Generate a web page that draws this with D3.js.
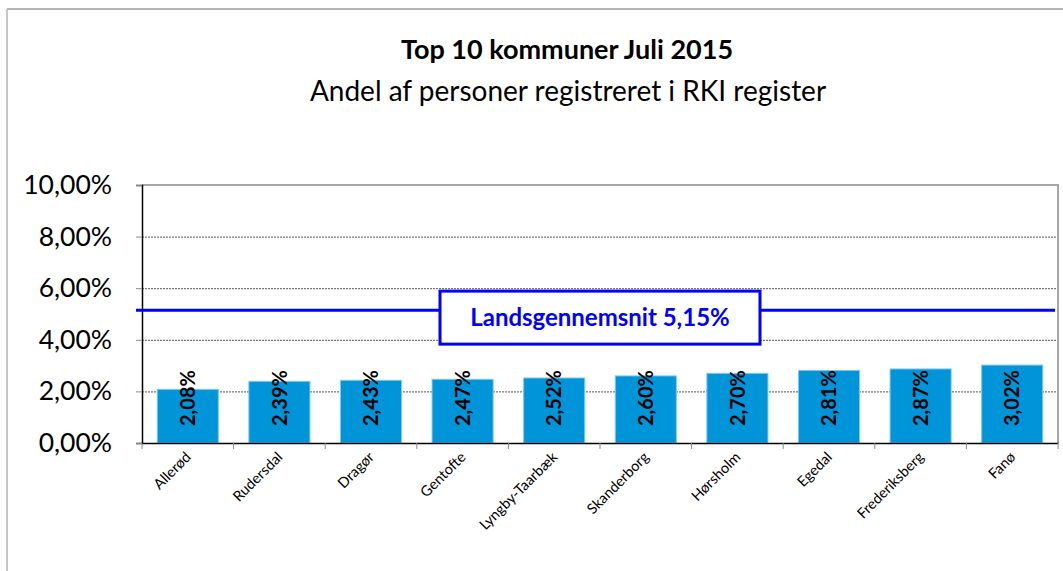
<!DOCTYPE html>
<html>
<head>
    <meta charset="utf-8" />
    <title>Top 10 kommuner Juli 2015</title>
    <style>
        body { margin: 0; background: #fff; }
        svg { display: block; font-family: Lato, "Open Sans", sans-serif; }
        .grid line { stroke: #555; stroke-dasharray: 2,1; }
    </style>
</head>
<body>
    <div id="chart"></div>
    <script src="https://cdn.jsdelivr.net/npm/d3@7"></script>
    <script>
        // data
        var kommuner = ["Allerød", "Rudersdal", "Dragør", "Gentofte", "Lyngby-Taarbæk", "Skanderborg", "Hørsholm", "Egedal", "Frederiksberg", "Fanø"];
        var andel = [2.08, 2.39, 2.43, 2.47, 2.52, 2.60, 2.70, 2.81, 2.87, 3.02];
        var yTicks = [0, 2, 4, 6, 8, 10];
        var landsgennemsnit = 5.15;

        var width = 1063, height = 571;
        var margin = { top: 185, right: 4, bottom: 128, left: 142 };

        var da = d3.formatLocale({ decimal: ",", thousands: ".", grouping: [3], currency: ["", " kr"] });
        var pct = d => da.format(".2f")(d) + "%";

        var svg = d3.select("#chart").append("svg")
            .attr("width", width)
            .attr("height", height);

        // outer chart frame (only top and left visible)
        svg.append("line").attr("x1", 7).attr("x2", width).attr("y1", 9).attr("y2", 9)
            .attr("stroke", "#9a9a9a").attr("stroke-width", 1.5);
        svg.append("line").attr("x1", 7).attr("x2", 7).attr("y1", 9).attr("y2", height)
            .attr("stroke", "#c6c6c6").attr("stroke-width", 2);

        // titles
        svg.append("text")
            .attr("x", 567).attr("y", 59)
            .attr("text-anchor", "middle")
            .attr("font-weight", "bold")
            .attr("font-size", 27)
            .text("Top 10 kommuner Juli 2015");
        svg.append("text")
            .attr("x", 568).attr("y", 101)
            .attr("text-anchor", "middle")
            .attr("font-size", 28)
            .text("Andel af personer registreret i RKI register");

        var x = d3.scaleBand()
            .domain(kommuner)
            .range([margin.left, width - margin.right - 1])
            .paddingInner(1 / 3)
            .paddingOuter(1 / 6);

        var y = d3.scaleLinear()
            .domain([0, 10])
            .range([height - margin.bottom, margin.top]);

        // gridlines
        svg.append("g")
            .attr("class", "grid")
            .selectAll("line")
            .data(yTicks.filter(d => d > 0 && d < 10))
            .join("line")
            .attr("x1", margin.left).attr("x2", x.range()[1])
            .attr("y1", d => y(d) + 0.5).attr("y2", d => y(d) + 0.5);

        // plot border top + right
        svg.append("path")
            .attr("d", `M${margin.left},${y(10)}H${x.range()[1]}V${y(0)}`)
            .attr("fill", "none")
            .attr("stroke", "#a6a6a6")
            .attr("stroke-width", 2);

        // bars
        svg.append("g")
            .selectAll("rect")
            .data(andel)
            .join("rect")
            .attr("x", (d, i) => x(kommuner[i]))
            .attr("y", d => y(d))
            .attr("width", x.bandwidth())
            .attr("height", d => y(0) - y(d))
            .attr("fill", "#0094d8")
            .attr("stroke", "#7cc8ee")
            .attr("stroke-width", 1);

        // bar labels (inside base, rotated)
        svg.append("g")
            .selectAll("text")
            .data(andel)
            .join("text")
            .attr("transform", (d, i) => `translate(${x(kommuner[i]) + x.bandwidth() / 2},${y(0) - 17}) rotate(-90)`)
            .attr("dy", "0.36em")
            .attr("font-weight", "bold")
            .attr("font-size", 20)
            .attr("fill", "#000")
            .text(d => pct(d));

        // y axis
        var yAxis = svg.append("g")
            .attr("transform", `translate(${margin.left},0)`)
            .call(d3.axisLeft(y).tickValues(yTicks).tickSize(6).tickPadding(24).tickFormat(pct));
        yAxis.select(".domain").attr("stroke", "#000").attr("stroke-width", 1.5);
        yAxis.selectAll(".tick line").attr("stroke", "#888");
        yAxis.selectAll(".tick text")
            .attr("font-size", 26.5)
            .attr("font-family", "Lato, 'Open Sans', sans-serif")
            .attr("fill", "#000");

        // x axis
        var xAxis = svg.append("g")
            .attr("transform", `translate(0,${y(0)})`)
            .call(d3.axisBottom(x).tickSize(0).tickFormat(""));
        xAxis.select(".domain").attr("stroke", "#000").attr("stroke-width", 1.5);

        var step = x.step();
        var bounds = d3.range(kommuner.length + 1).map(i => x.range()[0] + i * step);
        svg.append("g")
            .selectAll("line")
            .data(bounds)
            .join("line")
            .attr("x1", d => d).attr("x2", d => d)
            .attr("y1", y(0)).attr("y2", y(0) + 6)
            .attr("stroke", "#888");

        svg.append("g")
            .selectAll("text")
            .data(kommuner)
            .join("text")
            .attr("transform", d => `translate(${x(d) + x.bandwidth() / 2 + 4},${y(0) + 15}) rotate(-45)`)
            .attr("text-anchor", "end")
            .attr("font-size", 14.5)
            .attr("fill", "#000")
            .text(d => d);

        // national average line with label box
        var ly = y(landsgennemsnit);
        svg.append("line")
            .attr("x1", margin.left - 6).attr("x2", x.range()[1] - 3)
            .attr("y1", ly).attr("y2", ly)
            .attr("stroke", "#0000ff")
            .attr("stroke-width", 3);

        var cx = (x.range()[0] + x.range()[1]) / 2;
        svg.append("rect")
            .attr("x", cx - 160).attr("y", ly - 19)
            .attr("width", 320).attr("height", 53)
            .attr("fill", "#fff")
            .attr("stroke", "#0000ff")
            .attr("stroke-width", 3);
        svg.append("text")
            .attr("x", cx).attr("y", ly + 16)
            .attr("text-anchor", "middle")
            .attr("font-weight", "bold")
            .attr("font-size", 24)
            .attr("fill", "#0000ff")
            .text("Landsgennemsnit " + pct(landsgennemsnit));
    </script>
</body>
</html>
